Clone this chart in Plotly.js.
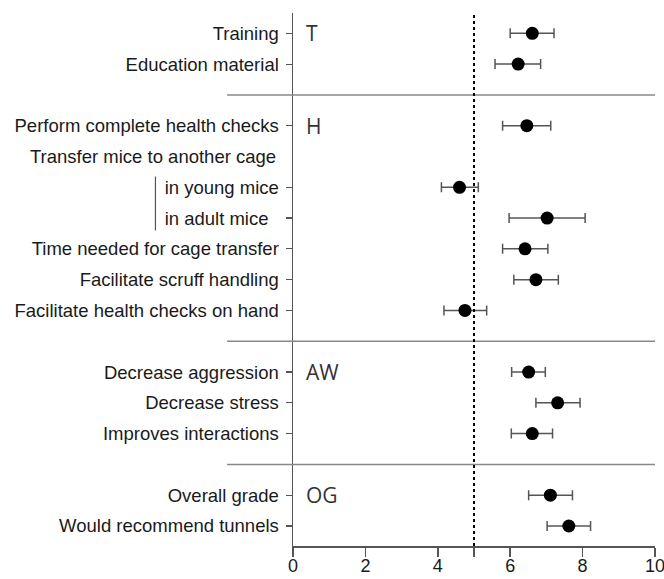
<!DOCTYPE html>
<html>
<head>
<meta charset="utf-8">
<script src="https://cdn.plot.ly/plotly-3.0.1.min.js"></script>
<style>html,body{margin:0;padding:0;background:#fff;}#chart{width:664px;height:579px;}</style>
</head>
<body>
<div id="chart"></div>
<script>
// Row labels (ticked rows) and their row positions
const labels = [
  "Training", "Education material",
  "Perform complete health checks", "in young mice", "in adult mice\u00a0\u00a0",
  "Time needed for cage transfer", "Facilitate scruff handling", "Facilitate health checks on hand",
  "Decrease aggression", "Decrease stress", "Improves interactions",
  "Overall grade", "Would recommend tunnels"
];
const rows = [0, 1, 3, 5, 6, 7, 8, 9, 11, 12, 13, 15, 16];
const means = [6.61, 6.22, 6.46, 4.60, 7.02, 6.41, 6.71, 4.75, 6.51, 7.31, 6.61, 7.11, 7.62];
const lower = [6.00, 5.58, 5.79, 4.10, 5.97, 5.79, 6.10, 4.17, 6.04, 6.71, 6.03, 6.51, 7.02];
const upper = [7.21, 6.84, 7.12, 5.12, 8.07, 7.04, 7.33, 5.35, 6.97, 7.93, 7.17, 7.72, 8.22];
const groupNames = ["T", "H", "AW", "OG"];
const groupRows = [0, 3, 11, 15];
const separatorRows = [2, 10, 14];
const refValue = 5;
const xTicks = [0, 2, 4, 5, 6, 8, 10];
const xTickText = ["0", "2", "4", "", "6", "8", "10"];

const plus = means.map((m, i) => upper[i] - m);
const minus = means.map((m, i) => m - lower[i]);
const FONT = 'Liberation Sans, Arial, sans-serif';

const trace = {
  type: 'scatter', mode: 'markers',
  x: means, y: rows,
  marker: {color: '#000', size: 13},
  error_x: {type: 'data', symmetric: false, array: plus, arrayminus: minus,
            color: '#555', thickness: 1.5, width: 5},
  showlegend: false, hoverinfo: 'none'
};

const shapes = [];
separatorRows.forEach(r => shapes.push({
  type: 'line', xref: 'paper', yref: 'y', x0: -0.182, x1: 1, y0: r, y1: r,
  line: {color: '#888', width: 1.5}
}));
shapes.push({type: 'line', xref: 'x', yref: 'paper', x0: refValue, x1: refValue, y0: 0, y1: 1,
  line: {color: '#000', width: 2, dash: 'dot'}});
// bracket for young/adult sub-rows
shapes.push({type: 'line', xref: 'paper', yref: 'y', x0: -0.380, x1: -0.380, y0: 4.65, y1: 6.4,
  line: {color: '#555', width: 1.2}});

const annotations = groupNames.map((g, i) => ({
  xref: 'paper', yref: 'y', x: 0.03, y: groupRows[i], text: g, showarrow: false,
  xanchor: 'left', yanchor: 'middle', font: {size: 21, color: '#333', family: 'Open Sans, sans-serif'}
}));
annotations.push({xref: 'paper', yref: 'y', x: -0.041, y: 4, text: 'Transfer mice to another cage',
  showarrow: false, xanchor: 'right', yanchor: 'middle',
  font: {size: 18.5, color: '#1a1a1a', family: FONT}});

const layout = {
  width: 664, height: 579,
  margin: {l: 293, r: 9, t: 13, b: 33, pad: 0},
  paper_bgcolor: '#fff', plot_bgcolor: '#fff',
  font: {family: FONT, size: 18, color: '#1a1a1a'},
  xaxis: {range: [0, 10], tickvals: xTicks, ticktext: xTickText,
          showgrid: false, zeroline: false, showline: true, linecolor: '#555', linewidth: 1.5,
          ticks: 'outside', ticklen: 9, tickwidth: 1.5, tickcolor: '#555',
          tickfont: {size: 18, color: '#1a1a1a'}, ticklabeloverflow: 'allow',
          ticklabelstandoff: -6, fixedrange: true},
  yaxis: {range: [16.65, -0.66], tickvals: rows, ticktext: labels,
          showgrid: false, zeroline: false, showline: true, linecolor: '#555', linewidth: 1.5,
          ticks: 'outside', ticklen: 6, tickwidth: 1.2, tickcolor: '#555',
          tickfont: {size: 18.5, color: '#1a1a1a'}, ticklabelstandoff: 3, fixedrange: true},
  shapes: shapes,
  annotations: annotations
};

Plotly.newPlot('chart', [trace], layout, {displayModeBar: false, staticPlot: true});
</script>
</body>
</html>
